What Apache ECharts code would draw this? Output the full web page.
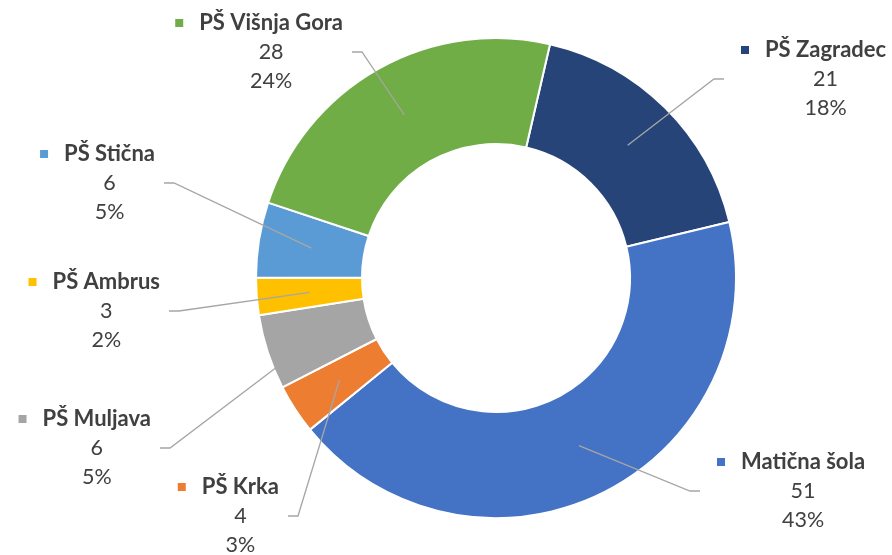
<!DOCTYPE html>
<html>
<head>
<meta charset="utf-8">
<script src="https://cdn.jsdelivr.net/npm/echarts@6/dist/echarts.min.js"></script>
<style>
  html, body { margin: 0; padding: 0; background: #fff; }
  #chart { width: 892px; height: 555px; }
</style>
</head>
<body>
<div id="chart"></div>
<script>
// podatki
const schools = ['PŠ Zagradec', 'Matična šola', 'PŠ Krka', 'PŠ Muljava', 'PŠ Ambrus', 'PŠ Stična', 'PŠ Višnja Gora'];
const pupils = [21, 51, 4, 6, 3, 6, 28];
const colors = ['#264478', '#4472C4', '#ED7D31', '#A5A5A5', '#FFC000', '#5B9BD5', '#70AD47'];

// kje se konča vodilna črta (x, y) in na kateri strani je oznaka
const labelEnds = [[724, 79], [700, 491], [288, 516], [160, 448], [169, 311], [164, 183], [352, 52]];
const labelSide = ['right', 'right', 'left', 'left', 'left', 'left', 'left'];

const cx = 496, cy = 278, rOuter = 240, rInner = 134, rLine = 187;
const font = 'Lato, "Liberation Sans", sans-serif';

const rich = {
  n: { fontFamily: font, fontWeight: 'bold', fontSize: 22, color: '#404040', lineHeight: 29, padding: [0, 0, 0, 16], align: 'center' },
  v: { fontFamily: font, fontSize: 21.5, color: '#404040', lineHeight: 29, padding: [0, 0, 0, 24], align: 'center' }
};
colors.forEach((c, i) => {
  rich['sq' + i] = { width: 8, height: 8, backgroundColor: c, align: 'center' };
});

const pieBase = {
  type: 'pie',
  center: [cx, cy],
  radius: [rInner, rOuter],
  startAngle: 77,
  clockwise: true,
  avoidLabelOverlap: false,
  percentPrecision: 0
};

let myChart = echarts.init(document.getElementById('chart'));
myChart.setOption({
  animation: false,
  backgroundColor: '#fff',
  series: [
    // kolobar
    Object.assign({}, pieBase, {
      z: 2,
      itemStyle: { borderColor: '#fff', borderWidth: 2 },
      label: { show: false },
      labelLine: { show: false },
      data: schools.map((s, i) => ({ name: s, value: pupils[i], itemStyle: { color: colors[i] } }))
    }),
    // oznake in vodilne črte nad kolobarjem
    Object.assign({}, pieBase, {
      z: 5,
      silent: true,
      itemStyle: { color: 'rgba(0,0,0,0)', borderWidth: 0 },
      label: {
        show: true,
        position: 'outside',
        formatter: p => `{sq${p.dataIndex}|}{n|${p.name}}\n{v|${p.value}}\n{v|${p.percent}%}`,
        rich: rich
      },
      labelLine: { show: true, lineStyle: { color: '#a6a6a6', width: 1.3 } },
      labelLayout: params => {
        const i = params.dataIndex;
        const end = labelEnds[i];
        const right = labelSide[i] === 'right';
        const p0 = params.labelLinePoints[0];
        const k = rLine / rOuter;
        const start = [cx + (p0[0] - cx) * k, cy + (p0[1] - cy) * k];
        const knee = [end[0] + (right ? -10 : 10), end[1]];
        return {
          x: right ? end[0] + 17 : end[0] - 9,
          y: end[1],
          align: right ? 'left' : 'right',
          verticalAlign: 'middle',
          labelLinePoints: [start, knee, end]
        };
      },
      data: schools.map((s, i) => ({ name: s, value: pupils[i] }))
    })
  ]
});
</script>
</body>
</html>
